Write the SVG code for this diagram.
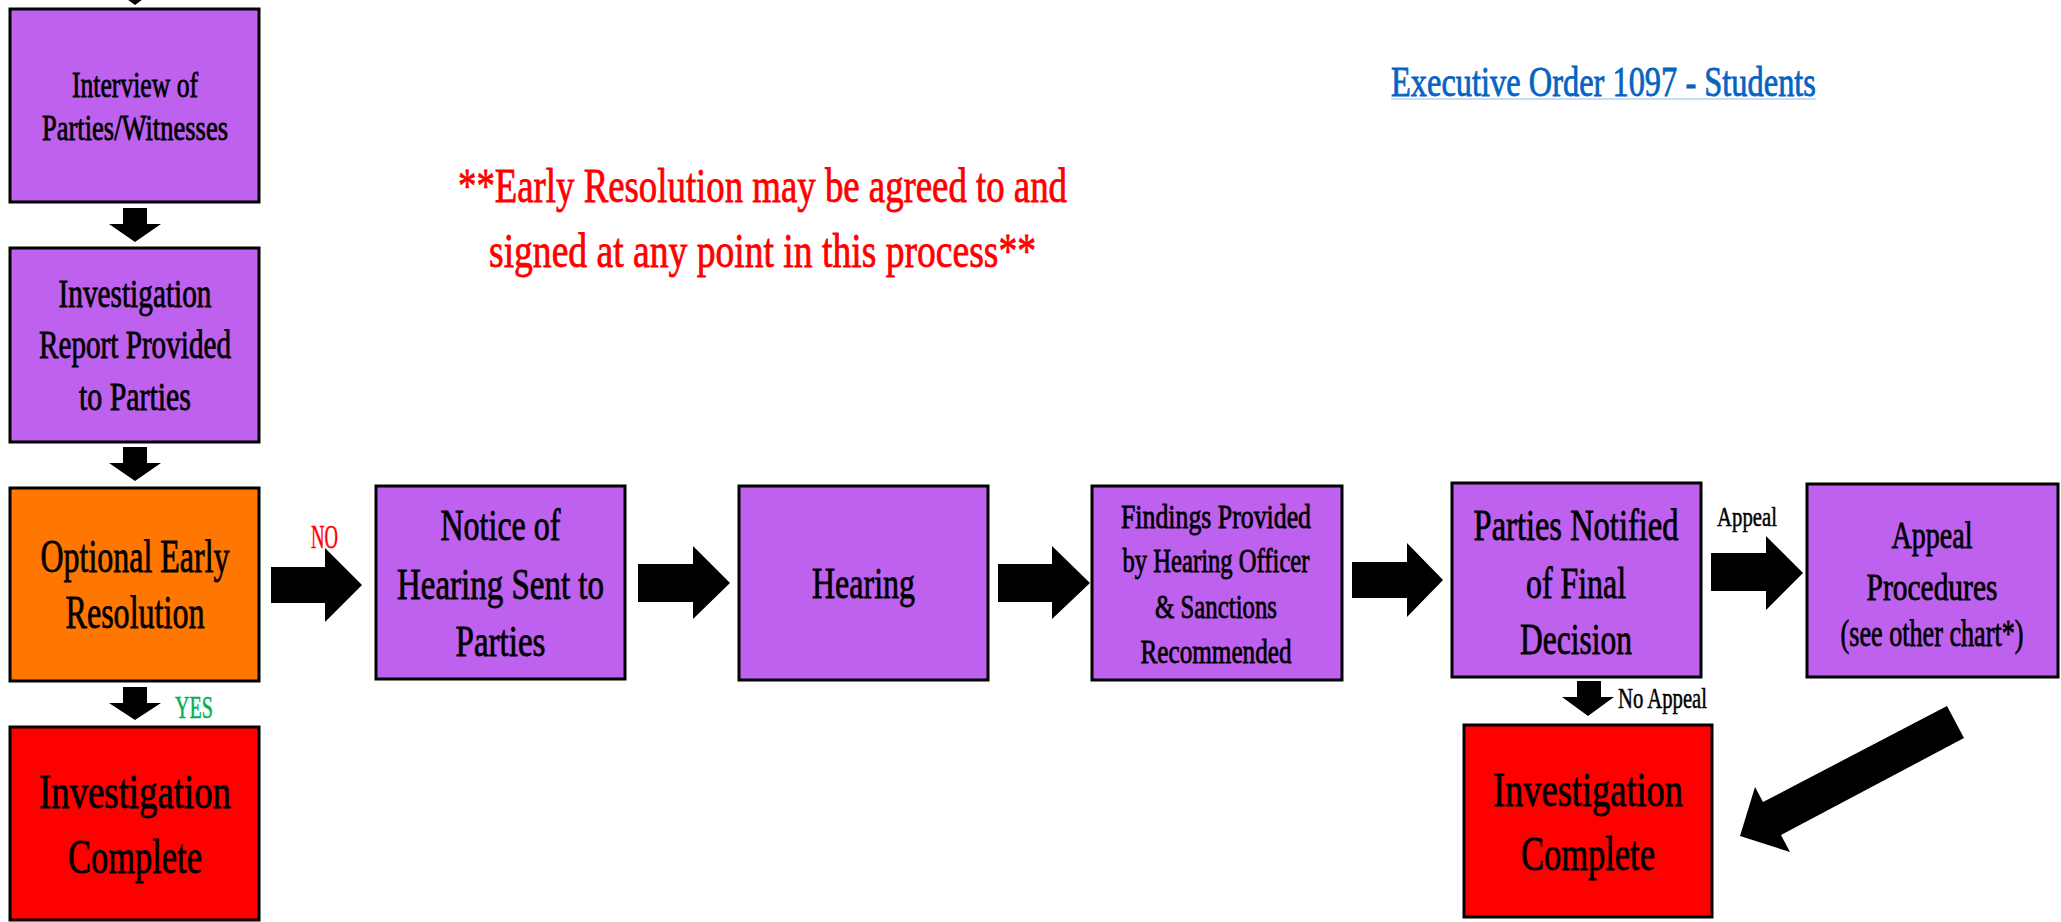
<svg xmlns="http://www.w3.org/2000/svg" width="2061" height="922" viewBox="0 0 2061 922">
<style>
  .box { stroke: #000; stroke-width: 3; }
  .purple { fill: #BD61EE; }
  .orange { fill: #FF7600; }
  .red { fill: #FF0000; }
  text { font-family: "Liberation Serif", "DejaVu Serif", serif; font-weight: normal; fill: #000; stroke: #000; stroke-width: 0.8; text-anchor: middle; }
  text.sm { stroke-width: 0.5; }
  text.rtxt { fill: #FF0000; stroke: #FF0000; }
  text.gtxt { fill: #00B050; stroke: #00B050; }
  text.btxt { fill: #0563C1; stroke: #0563C1; }
  .arrow { fill: #000; }
</style>
<rect width="2061" height="922" fill="#fff"/>

<g id="title">
  <text class="btxt" x="1603.5" y="96" font-size="42" textLength="425" lengthAdjust="spacingAndGlyphs">Executive Order 1097 - Students</text>
  <line x1="1391" y1="99" x2="1816" y2="99" stroke="#BBD0EC" stroke-width="1.5"/>
</g>

<g id="note">
  <text class="rtxt" x="762.5" y="202" font-size="48" textLength="609" lengthAdjust="spacingAndGlyphs">**Early Resolution may be agreed to and</text>
  <text class="rtxt" x="762.5" y="267" font-size="48" textLength="547" lengthAdjust="spacingAndGlyphs">signed at any point in this process**</text>
</g>

<g id="interview">
  <rect class="box purple" x="10" y="9" width="249" height="193"/>
  <text x="135" y="97" font-size="36" textLength="126" lengthAdjust="spacingAndGlyphs">Interview of</text>
  <text x="135" y="140" font-size="36" textLength="186" lengthAdjust="spacingAndGlyphs">Parties/Witnesses</text>
</g>

<g id="report">
  <rect class="box purple" x="10" y="248" width="249" height="194"/>
  <text x="135" y="307" font-size="40" textLength="153" lengthAdjust="spacingAndGlyphs">Investigation</text>
  <text x="135" y="358" font-size="40" textLength="192" lengthAdjust="spacingAndGlyphs">Report Provided</text>
  <text x="135" y="410" font-size="40" textLength="112" lengthAdjust="spacingAndGlyphs">to Parties</text>
</g>

<g id="optional">
  <rect class="box orange" x="10" y="488" width="249" height="193"/>
  <text x="135" y="572" font-size="46" textLength="189" lengthAdjust="spacingAndGlyphs">Optional Early</text>
  <text x="135" y="628" font-size="46" textLength="139" lengthAdjust="spacingAndGlyphs">Resolution</text>
</g>

<g id="complete-left">
  <rect class="box red" x="10" y="727" width="249" height="193"/>
  <text x="135" y="808" font-size="48" textLength="192" lengthAdjust="spacingAndGlyphs">Investigation</text>
  <text x="135" y="873" font-size="48" textLength="134" lengthAdjust="spacingAndGlyphs">Complete</text>
</g>

<g id="notice">
  <rect class="box purple" x="376" y="486" width="249" height="193"/>
  <text x="500.5" y="540" font-size="44" textLength="120" lengthAdjust="spacingAndGlyphs">Notice of</text>
  <text x="500.5" y="599" font-size="44" textLength="207" lengthAdjust="spacingAndGlyphs">Hearing Sent to</text>
  <text x="500.5" y="656" font-size="44" textLength="90" lengthAdjust="spacingAndGlyphs">Parties</text>
</g>

<g id="hearing">
  <rect class="box purple" x="739" y="486" width="249" height="194"/>
  <text x="863.5" y="598" font-size="44" textLength="103" lengthAdjust="spacingAndGlyphs">Hearing</text>
</g>

<g id="findings">
  <rect class="box purple" x="1092" y="486" width="250" height="194"/>
  <text x="1216" y="528" font-size="34" textLength="190" lengthAdjust="spacingAndGlyphs">Findings Provided</text>
  <text x="1216" y="572" font-size="34" textLength="187" lengthAdjust="spacingAndGlyphs">by Hearing Officer</text>
  <text x="1216" y="618" font-size="34" textLength="122" lengthAdjust="spacingAndGlyphs">&amp; Sanctions</text>
  <text x="1216" y="663" font-size="34" textLength="151" lengthAdjust="spacingAndGlyphs">Recommended</text>
</g>

<g id="parties-notified">
  <rect class="box purple" x="1452" y="483" width="249" height="194"/>
  <text x="0" y="0" font-size="44" transform="translate(1576,540) scale(0.739,1)">Parties Notified</text>
  <text x="1576" y="598" font-size="44" textLength="100" lengthAdjust="spacingAndGlyphs">of Final</text>
  <text x="1576" y="654" font-size="44" textLength="112" lengthAdjust="spacingAndGlyphs">Decision</text>
</g>

<g id="appeal-procedures">
  <rect class="box purple" x="1807" y="484" width="251" height="193"/>
  <text x="1932" y="548" font-size="38" textLength="81" lengthAdjust="spacingAndGlyphs">Appeal</text>
  <text x="1932" y="600" font-size="38" textLength="131" lengthAdjust="spacingAndGlyphs">Procedures</text>
  <text x="0" y="0" font-size="38" transform="translate(1932,646) scale(0.688,1)">(see other chart*)</text>
</g>

<g id="complete-right">
  <rect class="box red" x="1464" y="725" width="248" height="192"/>
  <text x="1588" y="806" font-size="48" textLength="190" lengthAdjust="spacingAndGlyphs">Investigation</text>
  <text x="1588" y="870" font-size="48" textLength="134" lengthAdjust="spacingAndGlyphs">Complete</text>
</g>

<g id="connectors">
  <polygon class="arrow" points="109,-14 161,-14 135,5"/>
  <polygon class="arrow" points="123,208 147,208 147,224 161,224 135,242 109,224 123,224"/>
  <polygon class="arrow" points="123,447 147,447 147,463 161,463 135,481 109,463 123,463"/>
  <polygon class="arrow" points="123,687 147,687 147,703 161,703 135,720 109,703 123,703"/>
  <polygon class="arrow" points="271,567 325,567 325,548 362,585 325,622 325,603 271,603"/>
  <polygon class="arrow" points="638,564 693,564 693,546 730,583 693,619 693,602 638,602"/>
  <polygon class="arrow" points="998,564 1052,564 1052,546 1090,583 1052,619 1052,602 998,602"/>
  <polygon class="arrow" points="1352,562 1407,562 1407,543 1443,580 1407,617 1407,598 1352,598"/>
  <polygon class="arrow" points="1711,553 1766,553 1766,536 1803,573 1766,610 1766,591 1711,591"/>
  <polygon class="arrow" points="1577,681 1601,681 1601,697 1614,697 1588,716 1562,697 1577,697"/>
  <polygon class="arrow" points="1947,706 1964,738 1781,835 1790,852 1740,836 1755,787 1763,802"/>
  <text class="gtxt sm" x="194" y="718" font-size="32" textLength="38" lengthAdjust="spacingAndGlyphs">YES</text>
  <text class="rtxt sm" x="324.5" y="548" font-size="34" textLength="27" lengthAdjust="spacingAndGlyphs">NO</text>
  <text class="sm" x="0" y="0" font-size="28" transform="translate(1747,526) scale(0.741,1)">Appeal</text>
  <text class="sm" x="1662.5" y="708" font-size="30" textLength="89" lengthAdjust="spacingAndGlyphs">No Appeal</text>
</g>
</svg>
